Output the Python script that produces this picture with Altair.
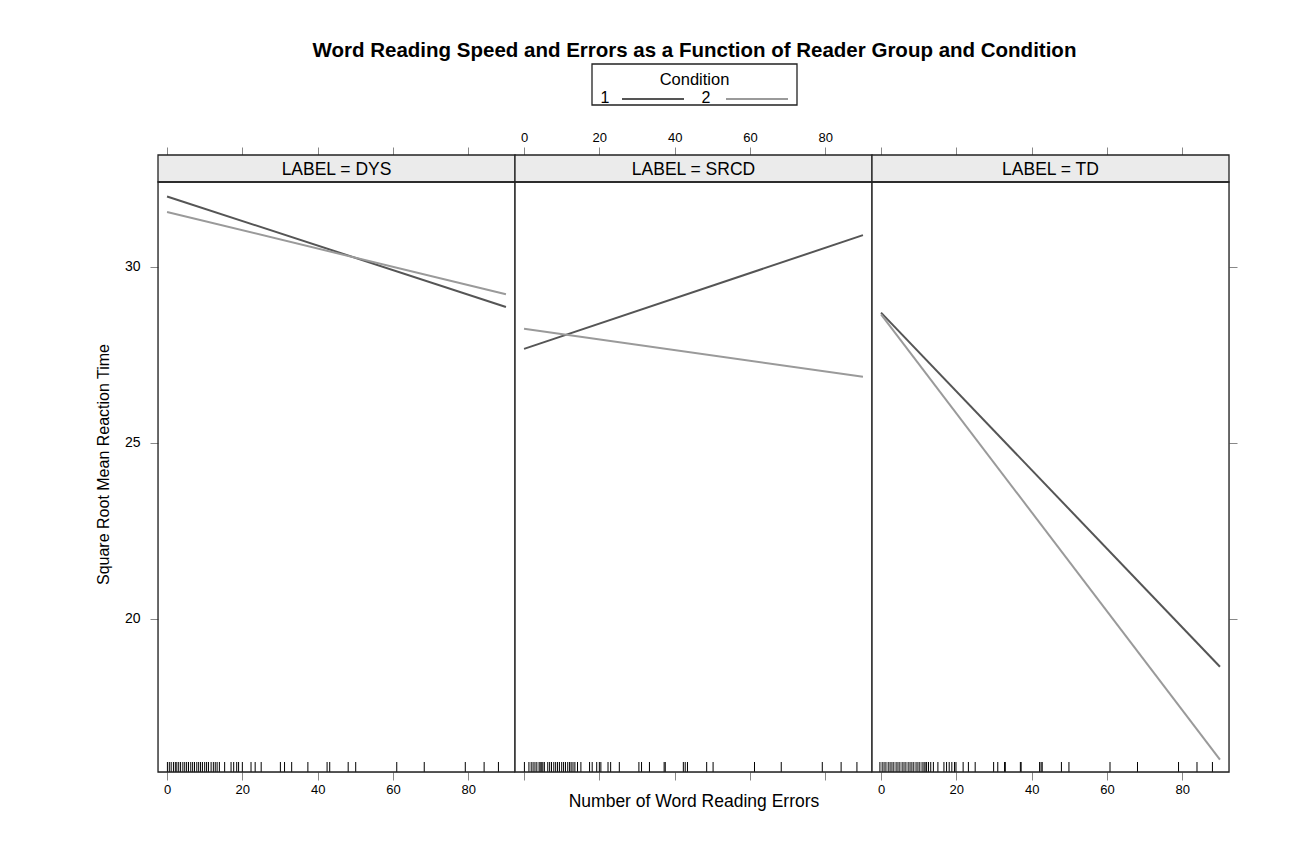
import altair as alt
import pandas as pd

# ---------------- data ----------------
groups = ["DYS", "SRCD", "TD"]
conditions = ["1", "2"]
cond_colors = ["#555555", "#9a9a9a"]

line_x = [0, 90]
cond1_y = {"DYS": [32.0, 28.86], "SRCD": [27.67, 30.9], "TD": [28.7, 18.64]}
cond2_y = {"DYS": [31.56, 29.22], "SRCD": [28.24, 26.88], "TD": [28.65, 16.0]}

rug_dys = [0.1, 0.6, 1.1, 1.7, 2.2, 2.6, 3.1, 3.6, 4.2, 4.7, 5.2, 5.7, 6.3, 6.8, 7.3,
           7.9, 8.4, 8.9, 9.4, 10.0, 10.5, 11.0, 11.7, 12.3, 12.8, 13.3, 13.9, 15.3,
           17.0, 17.7, 18.5, 19.0, 20.0, 22.3, 23.4, 25.0, 30.1, 31.2, 33.1, 37.4,
           42.5, 43.2, 48.1, 50.1, 61.0, 68.3, 79.2, 84.2, 88.0]
rug_srcd = [0.1, 1.3, 1.9, 2.4, 2.9, 3.4, 4.0, 4.3, 4.7, 5.0, 5.4, 6.3, 6.8, 7.3, 7.9,
            8.4, 8.9, 9.4, 10.0, 10.5, 11.0, 11.6, 12.1, 12.5, 13.0, 13.5, 14.2, 15.1,
            17.4, 18.1, 19.3, 20.0, 20.4, 22.3, 23.0, 25.3, 30.5, 31.2, 33.3, 37.2,
            37.5, 42.3, 42.8, 43.4, 48.5, 50.2, 61.2, 68.3, 79.2, 84.2, 88.4]
rug_td = [-0.3, 0.3, 0.8, 1.3, 1.9, 2.4, 2.9, 3.4, 4.0, 4.5, 5.0, 5.6, 6.1, 6.6, 7.2,
          7.7, 8.2, 8.7, 9.3, 9.8, 10.3, 10.9, 11.4, 11.7, 12.1, 12.6, 13.2, 13.9,
          15.1, 16.7, 17.4, 18.1, 18.8, 19.5, 19.9, 21.8, 23.2, 25.0, 29.9, 31.0,
          32.8, 33.0, 37.0, 37.2, 42.1, 42.5, 42.8, 47.9, 49.9, 60.8, 68.1, 79.0,
          83.9, 88.0]
rugs = {"DYS": rug_dys, "SRCD": rug_srcd, "TD": rug_td}

x_ticks = [0, 20, 40, 60, 80]
y_ticks = [20, 25, 30]

title_text = "Word Reading Speed and Errors as a Function of Reader Group and Condition"
x_title = "Number of Word Reading Errors"
y_title = "Square Root Mean Reaction Time"
legend_title = "Condition"

# ---------------- layout / style ----------------
FONT = "Liberation Sans"
W, H, STRIP = 357, 590, 27
xscale = alt.Scale(domain=[-2.4, 92.4], nice=False, zero=False)
yscale = alt.Scale(domain=[15.65, 32.41], nice=False, zero=False)


def make_panel(i):
    g = groups[i]
    ldf = pd.DataFrame({
        "x": line_x + line_x,
        "y": cond1_y[g] + cond2_y[g],
        "cond": [conditions[0]] * 2 + [conditions[1]] * 2,
    })
    rdf = pd.DataFrame({"x": rugs[g]})

    bottom_axis = alt.Axis(orient="bottom", values=x_ticks, tickSize=8, labels=(i != 1),
                           labelFontSize=13, labelPadding=3, domain=False, grid=False,
                           labelFlush=False, titleFontSize=17.5, titleFontWeight="normal",
                           titlePadding=12)
    top_axis = alt.Axis(orient="top", values=x_ticks, tickSize=8, labels=(i == 1),
                        labelFontSize=13, labelPadding=3, domain=False, grid=False,
                        labelFlush=False, offset=STRIP)
    if i == 0:
        y_enc = alt.Y("y:Q", scale=yscale, title=y_title,
                      axis=alt.Axis(orient="left", values=y_ticks, tickSize=8,
                                    labelFontSize=14, labelPadding=10, domain=False,
                                    grid=False, titleFontSize=16, titleFontWeight="normal",
                                    titlePadding=13, titleY=282))
    else:
        y_enc = alt.Y("y:Q", scale=yscale, axis=None)

    lines = alt.Chart(ldf).mark_line(strokeWidth=2).encode(
        x=alt.X("x:Q", scale=xscale, axis=bottom_axis,
                title=(x_title if i == 1 else None)),
        y=y_enc,
        color=alt.Color("cond:N", scale=alt.Scale(domain=conditions, range=cond_colors),
                        legend=None),
        detail="cond:N",
    )

    rug = alt.Chart(rdf).mark_rule(color="black", strokeWidth=1).encode(
        x=alt.X("x:Q", scale=xscale, axis=top_axis, title=None),
        y=alt.value(H - 10),
        y2=alt.value(H),
    )

    sdf = pd.DataFrame({"label": [f"LABEL = {g}"]})
    frame = alt.Chart(sdf).mark_rect(fillOpacity=0, stroke="#222222", strokeWidth=1.3).encode(
        x=alt.value(0), x2=alt.value(W), y=alt.value(0), y2=alt.value(H))
    strip = alt.Chart(sdf).mark_rect(fill="#ebebeb", stroke="#222222", strokeWidth=1.3).encode(
        x=alt.value(0), x2=alt.value(W), y=alt.value(-STRIP), y2=alt.value(0))
    strip_text = alt.Chart(sdf).mark_text(fontSize=17.5, font=FONT, color="black").encode(
        x=alt.value(W / 2), y=alt.value(-STRIP / 2 + 1), text="label:N")

    layers = [strip, strip_text, lines, rug, frame]

    if i == 2:
        right = alt.Chart(ldf).mark_line(opacity=0).encode(
            x=alt.X("x:Q", scale=xscale, axis=None),
            y=alt.Y("y:Q", scale=yscale, title=None,
                    axis=alt.Axis(orient="right", values=y_ticks, tickSize=8,
                                  labels=False, domain=False, grid=False)),
        )
        layers.append(right)

    if i == 1:
        box = alt.Chart(pd.DataFrame({"t": [legend_title]})).mark_rect(
            fill="white", stroke="#222222", strokeWidth=1.3).encode(
            x=alt.value(77), x2=alt.value(282), y=alt.value(-118), y2=alt.value(-77))
        ltitle = alt.Chart(pd.DataFrame({"t": [legend_title]})).mark_text(
            fontSize=16.5, font=FONT, color="black").encode(
            x=alt.value(179.5), y=alt.value(-102), text="t:N")
        layers += [box, ltitle]
        for k, c in enumerate(conditions):
            cdf = pd.DataFrame({"cond": [c]})
            layers.append(alt.Chart(cdf).mark_text(fontSize=16, font=FONT, color="black").encode(
                x=alt.value(90 + 101 * k), y=alt.value(-84), text="cond:N"))
            layers.append(alt.Chart(cdf).mark_rule(strokeWidth=2, color=cond_colors[k]).encode(
                x=alt.value(107 + 104 * k), x2=alt.value(169 + 104 * k), y=alt.value(-83)))

    return alt.layer(*layers).resolve_axis(x="independent", y="independent").properties(
        width=W, height=H)


chart = alt.hconcat(*[make_panel(i) for i in range(3)], spacing=0, bounds="flush").properties(
    title=alt.TitleParams(text=title_text, fontSize=20.5, fontWeight="bold", font=FONT,
                          anchor="middle", offset=1, dx=28, color="black"),
    padding={"left": 86, "top": 33, "right": 20, "bottom": 20},
).configure_view(strokeWidth=0).configure_axis(
    labelFont=FONT, titleFont=FONT, tickColor="black", labelColor="black",
    titleColor="black", tickWidth=1
).configure(font=FONT)

chart.save("out.html", embed_options={"renderer": "svg", "actions": False})
